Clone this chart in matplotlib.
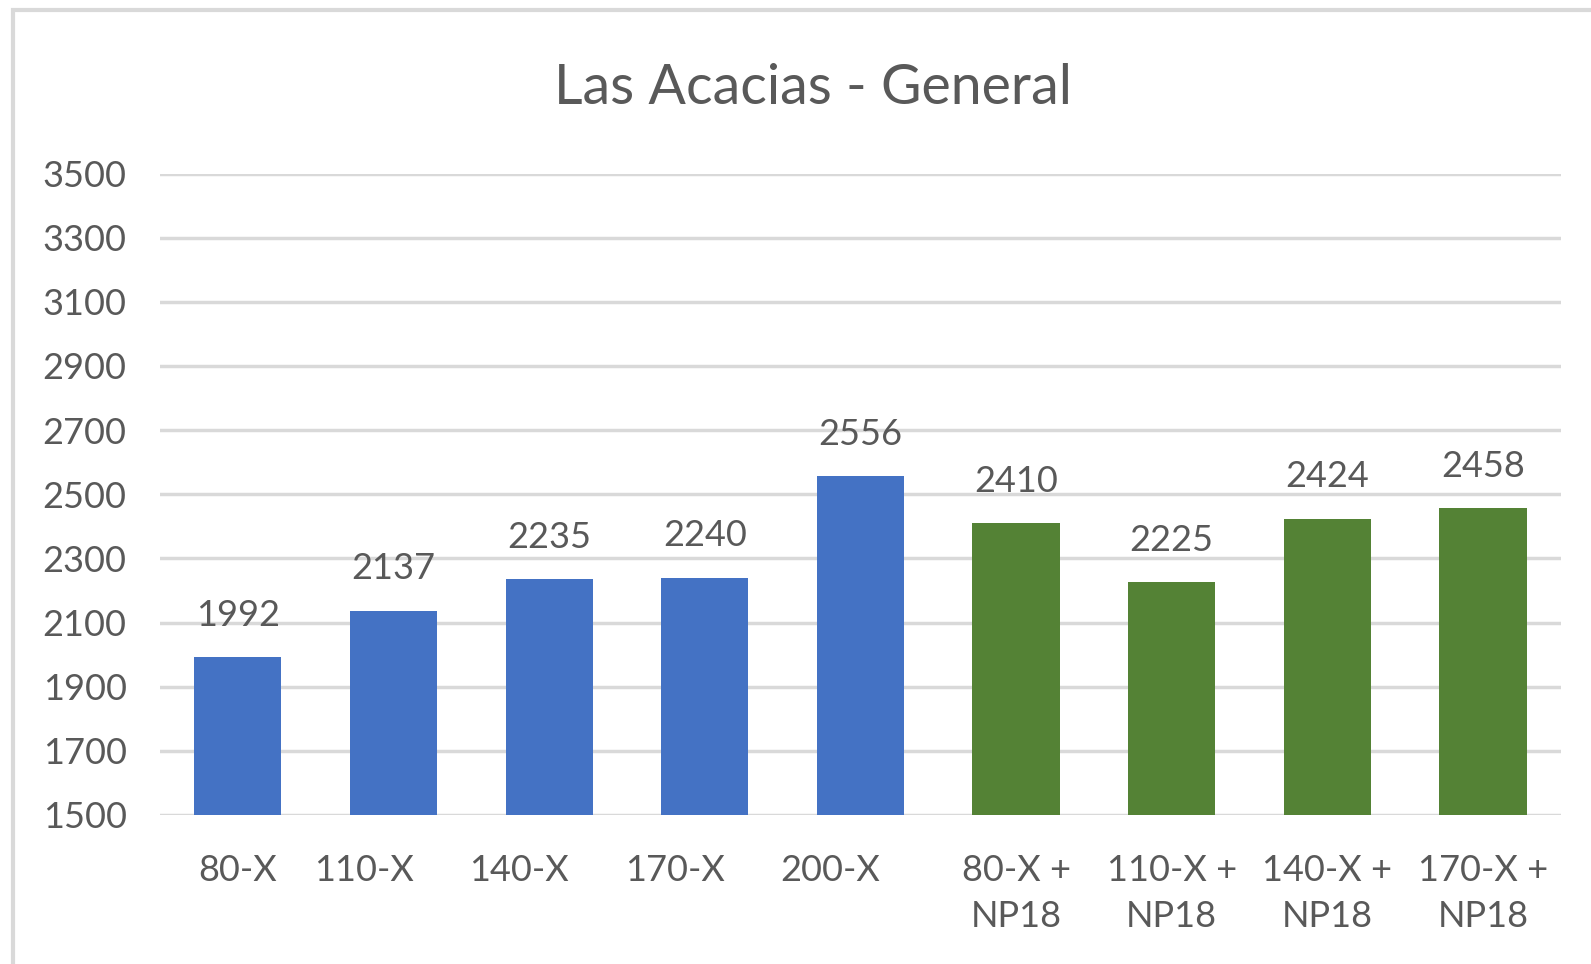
import matplotlib.pyplot as plt
from matplotlib.patches import Rectangle
from matplotlib.transforms import ScaledTranslation

categories = ['80-X', '110-X', '140-X', '170-X', '200-X',
              '80-X +\nNP18', '110-X +\nNP18', '140-X +\nNP18', '170-X +\nNP18']
values = [1992, 2137, 2235, 2240, 2556, 2410, 2225, 2424, 2458]
colors = ['#4472C4'] * 5 + ['#548235'] * 4
yticks = [1500, 1700, 1900, 2100, 2300, 2500, 2700, 2900, 3100, 3300, 3500]

plt.rcParams['font.family'] = ['Lato', 'DejaVu Sans']
text_color = '#595959'
grid_color = '#D9D9D9'

fig = plt.figure(figsize=(15.91, 9.64), dpi=100)
ax = fig.add_axes([0.1006, 0.1546, 0.8804, 0.6654])

x = range(len(categories))
ax.bar(x, values, width=0.56, color=colors, zorder=3)

for xi, v in zip(x, values):
    ax.annotate(str(v), (xi, v), xytext=(0, 30), textcoords='offset points',
                ha='center', va='center', fontsize=26, color=text_color)

ax.set_xlim(-0.5, len(categories) - 0.5)
ax.set_ylim(1500, 3500)
ax.set_yticks(yticks)
ax.set_yticklabels([str(t) for t in yticks], fontsize=26, color=text_color)
ax.set_xticks(list(x))
ax.set_xticklabels(categories, fontsize=26, color=text_color, linespacing=1.5)
ax.tick_params(axis='both', length=0)
ax.tick_params(axis='y', pad=24)
ax.tick_params(axis='x', pad=28)
ax.grid(axis='y', color=grid_color, linewidth=2.5, zorder=0)
for s in ax.spines.values():
    s.set_visible(False)

# Excel nudges the single-line labels 110-X..200-X a little to the left
for lbl in ax.get_xticklabels()[1:5]:
    lbl.set_transform(lbl.get_transform() + ScaledTranslation(-0.3, 0, fig.dpi_scale_trans))

fig.text(0.511, 0.908, 'Las Acacias - General', ha='center', va='center',
         fontsize=40, color=text_color)

# outer chart border (right and bottom cut off in the original)
fig.patches.append(Rectangle((13 / 1591, -0.05), 1.1, 0.05 + (964 - 10) / 964,
                             transform=fig.transFigure, fill=False,
                             edgecolor=grid_color, linewidth=3))

fig.savefig('out.png', dpi=100)
